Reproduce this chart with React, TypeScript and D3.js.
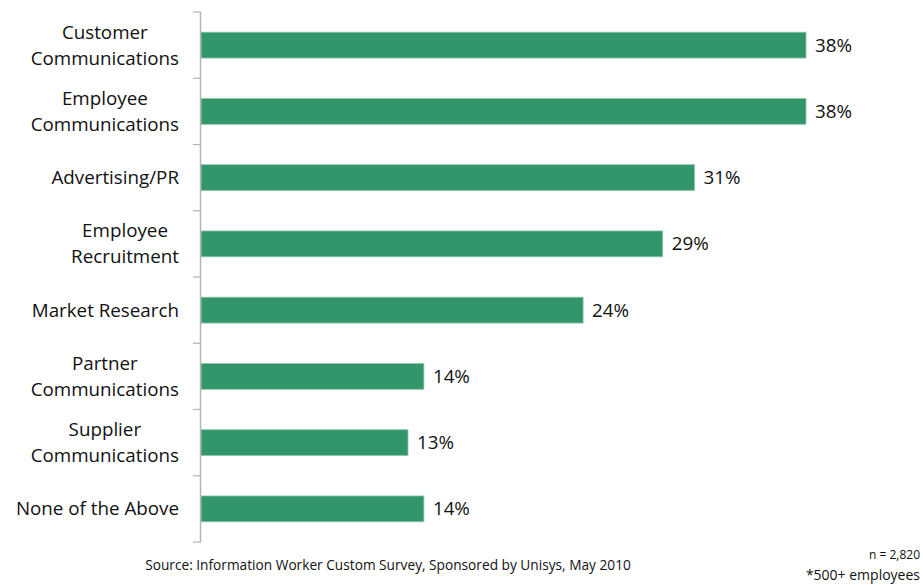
import React, { useEffect, useRef } from "react";
import * as d3 from "d3";

const categories: string[][] = [
  ["Customer", "Communications"],
  ["Employee", "Communications"],
  ["Advertising/PR"],
  ["Employee", "Recruitment"],
  ["Market Research"],
  ["Partner", "Communications"],
  ["Supplier", "Communications"],
  ["None of the Above"],
];
const values: number[] = [38, 38, 31, 29, 24, 14, 13, 14];
const sourceText = "Source: Information Worker Custom Survey, Sponsored by Unisys, May 2010";
const noteN = "n = 2,820";
const noteEmp = "*500+ employees";

const W = 923;
const H = 585;
const FONT = "'Open Sans', 'Liberation Sans', sans-serif";
const FS = 18.8;

export default function App() {
  const ref = useRef<SVGSVGElement>(null);
  useEffect(() => {
    const svg = d3.select(ref.current);
    svg.selectAll("*").remove();
    const x0 = 201;
    const x = d3.scaleLinear().domain([0, 38]).range([x0, 806]);
    const y = d3
      .scaleBand<number>()
      .domain(d3.range(values.length))
      .range([12, 542])
      .paddingInner(0.61)
      .paddingOuter(0.305);
    const band = (542 - 12) / values.length;

    const g = svg.append("g");
    g.selectAll("rect.bar")
      .data(values)
      .join("rect")
      .attr("class", "bar")
      .attr("x", x0)
      .attr("y", (_, i) => y(i)!)
      .attr("width", (d) => x(d) - x0)
      .attr("height", y.bandwidth())
      .attr("fill", "#33956a")
      .attr("stroke", "#8cc7a9")
      .attr("stroke-width", 0.8);

    g.append("line")
      .attr("x1", x0 - 0.5)
      .attr("x2", x0 - 0.5)
      .attr("y1", 12)
      .attr("y2", 542)
      .attr("stroke", "#b3b3b3")
      .attr("stroke-width", 1.5);
    g.selectAll("line.tick")
      .data(d3.range(values.length + 1))
      .join("line")
      .attr("class", "tick")
      .attr("x1", x0 - 8)
      .attr("x2", x0)
      .attr("y1", (i) => 12 + i * band)
      .attr("y2", (i) => 12 + i * band)
      .attr("stroke", "#b3b3b3")
      .attr("stroke-width", 1.2);

    g.selectAll("text.val")
      .data(values)
      .join("text")
      .attr("class", "val")
      .attr("x", (d) => x(d) + 9)
      .attr("y", (_, i) => y(i)! + y.bandwidth() / 2)
      .attr("dy", "0.35em")
      .attr("font-family", FONT)
      .attr("font-size", FS)
      .attr("fill", "#111")
      .text((d) => `${d}%`);

    const ctx = document.createElement("canvas").getContext("2d")!;
    ctx.font = `${FS}px ${FONT}`;
    categories.forEach((lines, i) => {
      const cy = y(i)! + y.bandwidth() / 2;
      const maxW = d3.max(lines, (l) => ctx.measureText(l).width)!;
      const cx = 179 - maxW / 2;
      const lh = 26;
      const t = g
        .append("text")
        .attr("font-family", FONT)
        .attr("font-size", FS)
        .attr("fill", "#111")
        .attr("text-anchor", "middle");
      lines.forEach((l, j) => {
        t.append("tspan")
          .attr("x", cx)
          .attr("y", cy + (j - (lines.length - 1) / 2) * lh)
          .attr("dy", "0.35em")
          .text(l);
      });
    });

    g.append("text")
      .attr("x", 388)
      .attr("y", 570)
      .attr("text-anchor", "middle")
      .attr("font-family", FONT)
      .attr("font-size", 13.7)
      .attr("fill", "#111")
      .text(sourceText);
    g.append("text")
      .attr("x", 920)
      .attr("y", 559)
      .attr("text-anchor", "end")
      .attr("font-family", FONT)
      .attr("font-size", 12)
      .attr("fill", "#111")
      .text(noteN);
    g.append("text")
      .attr("x", 920)
      .attr("y", 580)
      .attr("text-anchor", "end")
      .attr("font-family", FONT)
      .attr("font-size", 14)
      .attr("fill", "#111")
      .text(noteEmp);
  }, []);
  return (
    <svg
      ref={ref}
      width={W}
      height={H}
      style={{ position: "absolute", left: 0, top: 0, background: "#fff" }}
    />
  );
}
